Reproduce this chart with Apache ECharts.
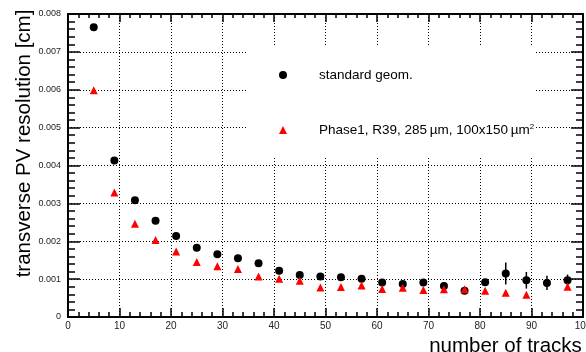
<!DOCTYPE html>
<html>
<head>
<meta charset="utf-8">
<script src="https://cdn.jsdelivr.net/npm/echarts@6/dist/echarts.min.js"></script>
<style>html,body{margin:0;padding:0;background:#fff;}#c{width:586px;height:352px;}</style>
</head>
<body>
<div id="c"></div>
<script>
var tracks = [5, 9, 13, 17, 21, 25, 29, 33, 37, 41, 45, 49, 53, 57, 61, 65, 69, 73, 77, 81, 85, 89, 93, 97];
var standardRes = [0.00765, 0.00413, 0.00308, 0.00254, 0.00214, 0.00183, 0.001655, 0.00155, 0.00142, 0.00122, 0.00111, 0.00107, 0.00105, 0.00101, 0.00091, 0.00087, 0.00091, 0.00082, 0.00069, 0.00092, 0.00115, 0.00097, 0.00090, 0.00097];
var standardErr = [0.00003, 0.00003, 0.00002, 0.00002, 0.00002, 0.00002, 0.00002, 0.00002, 0.00002, 0.00003, 0.00003, 0.00003, 0.00003, 0.00004, 0.00004, 0.00005, 0.00005, 0.00006, 0.00006, 0.00008, 0.00029, 0.00022, 0.00019, 0.00015];
var phase1Res = [0.00599, 0.00329, 0.00246, 0.00203, 0.00173, 0.00145, 0.00134, 0.00127, 0.00107, 0.00101, 0.00096, 0.00078, 0.00079, 0.00083, 0.00074, 0.00077, 0.00071, 0.00073, 0.00073, 0.00069, 0.00064, 0.00059, null, 0.00080];
var phase1Err = [0.00003, 0.00002, 0.00002, 0.00002, 0.00002, 0.00002, 0.00002, 0.00002, 0.00002, 0.00002, 0.00002, 0.00002, 0.00003, 0.00003, 0.00003, 0.00003, 0.00003, 0.00003, 0.00004, 0.00004, 0.00004, 0.00005, null, 0.00008];
var seriesNames = ['standard geom.', 'Phase1, R39, 285\u2009\u00b5m, 100x150\u2009\u00b5m{sup|2}'];
var xTitle = 'number of tracks';
var yTitle = 'transverse PV resolution [cm]';

function pts(ys) { return tracks.map(function (t, i) { return ys[i] == null ? null : [t, ys[i]]; }).filter(Boolean); }
function errPts(ys, es) {
  return tracks.map(function (t, i) { return ys[i] == null ? null : [t, ys[i] - es[i], ys[i] + es[i]]; }).filter(Boolean);
}
function errRender(color) {
  return function (params, api) {
    var a = api.coord([api.value(0), api.value(1)]);
    var b = api.coord([api.value(0), api.value(2)]);
    return { type: 'line', shape: { x1: a[0], y1: a[1], x2: b[0], y2: b[1] }, style: { stroke: color, lineWidth: 1.5 } };
  };
}
var FONT = '"Liberation Sans", Arial, Helvetica, sans-serif';
var chart = echarts.init(document.getElementById('c'), null, { renderer: 'canvas' });
var dotted = { color: '#000', width: 1, type: [1, 2] };
var frameLine = { onZero: false, lineStyle: { color: '#000', width: 2 } };
chart.setOption({
  animation: false,
  backgroundColor: '#fff',
  textStyle: { fontFamily: FONT },
  grid: { left: 68, right: 3, top: 14, bottom: 35, containLabel: false, outerBoundsMode: 'none' },
  legend: {
    left: 247, top: 47, orient: 'vertical',
    backgroundColor: '#fff',
    padding: [21, 0, 20, 32],
    itemGap: 41, itemWidth: 8, itemHeight: 8,
    data: [{ name: seriesNames[0], icon: 'circle' }, { name: seriesNames[1], icon: 'triangle' }],
    formatter: function (n) { return n; },
    textStyle: {
      fontFamily: FONT, fontSize: 13.5, color: '#000', lineHeight: 14, padding: [0, 0, 0, 27],
      rich: { sup: { fontSize: 8, verticalAlign: 'top', lineHeight: 14, padding: [0, 0, 6, 0], fontFamily: FONT, color: '#000' } }
    }
  },
  xAxis: [{
    type: 'value', min: 0, max: 100, interval: 10, position: 'bottom',
    name: xTitle, nameLocation: 'middle', nameGap: 15,
    nameTextStyle: { fontFamily: FONT, fontSize: 20.5, color: '#000', padding: [0, 0, 0, 360] },
    axisLine: frameLine,
    axisTick: { inside: true, length: 9, lineStyle: { color: '#000', width: 1.5 } },
    minorTick: { show: true, splitNumber: 5, length: 5, lineStyle: { color: '#000', width: 1.5 } },
    axisLabel: { fontFamily: FONT, fontSize: 10, color: '#222', margin: 4 },
    splitLine: { show: true, lineStyle: dotted }
  }, {
    type: 'value', min: 0, max: 100, interval: 10, position: 'top',
    axisLine: frameLine,
    axisTick: { inside: true, length: 8, lineStyle: { color: '#000', width: 1.5 } },
    minorTick: { show: true, splitNumber: 5, length: 4, lineStyle: { color: '#000', width: 1.5 } },
    axisLabel: { show: false }, splitLine: { show: false }
  }],
  yAxis: [{
    type: 'value', min: 0, max: 0.008, interval: 0.001, position: 'left',
    name: yTitle, nameLocation: 'middle', nameGap: 33, nameRotate: 90, nameMoveOverlap: false,
    nameTextStyle: { fontFamily: FONT, fontSize: 20.5, color: '#000', padding: [0, 0, 0, 44] },
    axisLine: frameLine,
    axisTick: { inside: true, length: 12, lineStyle: { color: '#000', width: 1.5 } },
    minorTick: { show: true, splitNumber: 5, length: 7, lineStyle: { color: '#000', width: 1.5 } },
    axisLabel: { fontFamily: FONT, fontSize: 9, color: '#222', margin: 7,
      formatter: function (v) { return v === 0 ? '0' : v.toFixed(3); } },
    splitLine: { show: true, lineStyle: dotted }
  }, {
    type: 'value', min: 0, max: 0.008, interval: 0.001, position: 'right',
    axisLine: frameLine,
    axisTick: { inside: true, length: 12, lineStyle: { color: '#000', width: 1.5 } },
    minorTick: { show: true, splitNumber: 5, length: 7, lineStyle: { color: '#000', width: 1.5 } },
    axisLabel: { show: false }, splitLine: { show: false }
  }],
  series: [
    { type: 'custom', name: 'errStd', renderItem: errRender('#000'), data: errPts(standardRes, standardErr), z: 3, silent: true },
    { type: 'scatter', name: seriesNames[0], data: pts(standardRes), symbol: 'circle', symbolSize: 8,
      itemStyle: { color: '#000', opacity: 1 }, z: 4 },
    { type: 'custom', name: 'errP1', renderItem: errRender('#f00'), data: errPts(phase1Res, phase1Err), z: 5, silent: true },
    { type: 'scatter', name: seriesNames[1], data: pts(phase1Res), symbol: 'triangle', symbolSize: 8,
      itemStyle: { color: '#f00', opacity: 1 }, z: 6 }
  ]
});
</script>
</body>
</html>
